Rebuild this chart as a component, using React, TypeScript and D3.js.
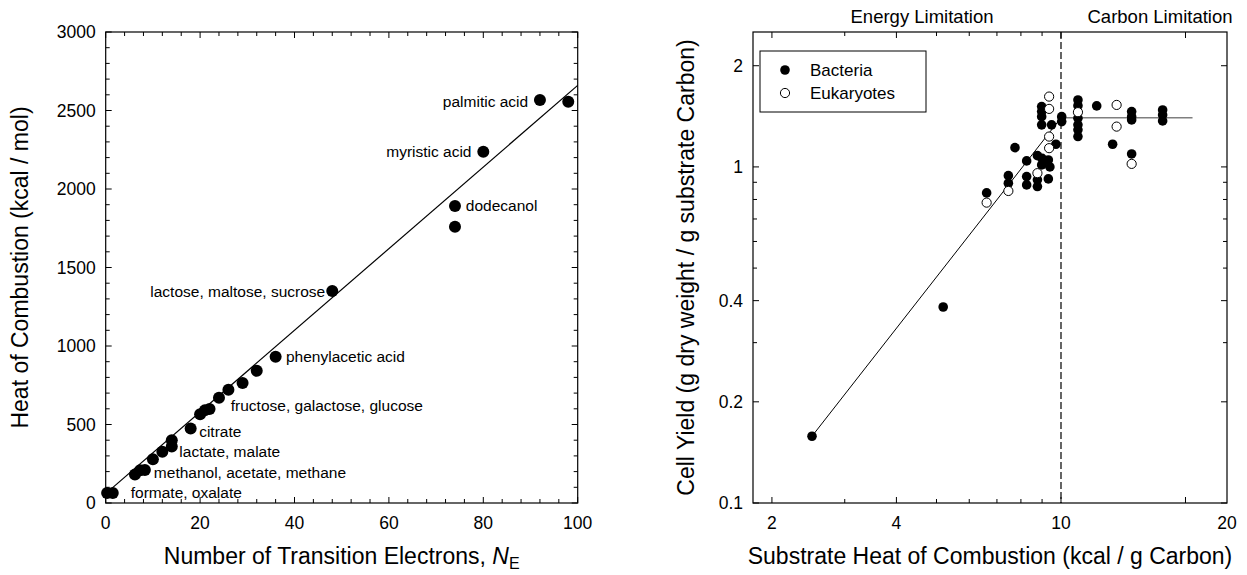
import React from "react";
import * as d3 from "d3";

// ---------- Left panel data ----------
const electronsNE = [0.3, 1.5, 6.2, 7.3, 8.3, 10, 12, 14, 14, 18, 20, 21, 22, 24, 26, 29, 32, 36, 48, 74, 74, 80, 92, 98];
const heatKcal = [63, 63, 182, 208, 210, 278, 327, 400, 360, 475, 565, 590, 598, 670, 722, 765, 842, 932, 1350, 1892, 1760, 2238, 2567, 2556];
const fitNE = [0, 100];
const fitHeat = [60, 2660];
const leftLabelText = ["formate, oxalate", "methanol, acetate, methane", "lactate, malate", "citrate", "fructose, galactose, glucose", "phenylacetic acid", "lactose, maltose, sucrose", "dodecanol", "myristic acid", "palmitic acid"];
const leftLabelNE = [5.3, 10.2, 15.6, 19.8, 26.5, 38.2, 46.5, 76.3, 77.5, 89.5];
const leftLabelHeat = [64, 193, 327, 454, 618, 932, 1350, 1892, 2238, 2560];
const leftLabelAnchor = ["start", "start", "start", "start", "start", "start", "end", "start", "end", "end"];
const leftXTicks = [0, 20, 40, 60, 80, 100];
const leftYTicks = [0, 500, 1000, 1500, 2000, 2500, 3000];

// ---------- Right panel data ----------
const bacteriaHeat = [6.61, 7.46, 7.46, 7.74, 8.26, 8.26, 8.26, 8.77, 8.77, 8.77, 8.98, 9.32, 9.32, 9.72, 8.98, 9.49, 8.98, 8.98, 8.98, 10.04, 10.04, 10.99, 10.99, 10.99, 10.99, 10.99, 10.99, 12.2, 13.33, 14.82, 14.82, 14.82, 14.82, 17.61, 17.61, 17.61, 5.19, 2.5, 9.0, 9.4];
const bacteriaYield = [0.837, 0.942, 0.894, 1.141, 1.042, 0.936, 0.884, 1.08, 0.915, 0.874, 1.014, 1.049, 0.921, 1.168, 1.334, 1.334, 1.512, 1.461, 1.411, 1.411, 1.364, 1.582, 1.521, 1.396, 1.334, 1.289, 1.231, 1.519, 1.168, 1.461, 1.411, 1.38, 1.093, 1.477, 1.428, 1.37, 0.383, 0.158, 1.06, 1.0];
const eukHeat = [6.61, 7.46, 8.77, 9.36, 9.36, 9.36, 9.36, 10.99, 13.63, 13.63, 14.82];
const eukYield = [0.783, 0.848, 0.958, 1.619, 1.488, 1.231, 1.137, 1.455, 1.529, 1.318, 1.021];
const energyLineX = [2.5, 10];
const energyLineY = [0.158, 1.4];
const carbonLineX = [10, 20.8];
const carbonLineY = [1.4, 1.4];
const limitBoundary = 10;
const rightXMinor = [2, 3, 4, 5, 6, 7, 8, 9, 10, 20];
const rightXLabelVals = [2, 4, 10];
const rightYMinor = [0.1, 0.2, 0.3, 0.4, 0.5, 0.6, 0.7, 0.8, 0.9, 1, 2];
const rightYLabelVals = [0.1, 0.2, 0.4, 1, 2];
const rightXEndLabel = "20";
const legendNames = ["Bacteria", "Eukaryotes"];

const FONT = "'Liberation Sans', Arial, sans-serif";
const TICK_FS = 17.5;
const TITLE_FS = 23;
const NOTE_FS = 15.5;

export default function App() {
  const top = 32, bottom = 503;
  const xL = d3.scaleLinear().domain([0, 100]).range([105.7, 577.7]);
  const yL = d3.scaleLinear().domain([0, 3000]).range([bottom, top]);
  const xR = d3.scaleLog().domain([1.8, 25.2]).range([753, 1227]);
  const yR = d3.scaleLog().domain([0.1, 2.52]).range([bottom, top]);

  const lineL = d3.line<number>().x((_, i) => xL(fitNE[i])).y((d) => yL(d));
  const lineE = d3.line<number>().x((_, i) => xR(energyLineX[i])).y((d) => yR(d));
  const lineC = d3.line<number>().x((_, i) => xR(carbonLineX[i])).y((d) => yR(d));

  const leftXMinor = d3.range(0, 101, 4);
  const leftYMinor = d3.range(0, 3001, 100);

  const [lx0, lx1] = xL.range();
  const [rx0, rx1] = xR.range();

  const frame = (x0: number, x1: number) => (
    <rect x={x0} y={top} width={x1 - x0} height={bottom - top} fill="none" stroke="#000" strokeWidth={1.2} />
  );

  return (
    <svg width={1247} height={575} style={{ position: "absolute", left: 0, top: 0, background: "#fff" }} fontFamily={FONT}>
      {/* ============ LEFT PANEL ============ */}
      {leftXMinor.map((v) => {
        const len = v % 20 === 0 ? 6 : 4;
        return (
          <g key={"lxt" + v} stroke="#000" strokeWidth={1}>
            <line x1={xL(v)} x2={xL(v)} y1={bottom} y2={bottom - len} />
            <line x1={xL(v)} x2={xL(v)} y1={top} y2={top + len} />
          </g>
        );
      })}
      {leftYMinor.map((v) => {
        const len = v % 500 === 0 ? 6 : 4;
        return (
          <g key={"lyt" + v} stroke="#000" strokeWidth={1}>
            <line x1={lx0} x2={lx0 + len} y1={yL(v)} y2={yL(v)} />
            <line x1={lx1} x2={lx1 - len} y1={yL(v)} y2={yL(v)} />
          </g>
        );
      })}
      {frame(lx0, lx1)}
      {leftXTicks.map((v) => (
        <text key={"lxl" + v} x={xL(v)} y={529} textAnchor="middle" fontSize={TICK_FS}>{v}</text>
      ))}
      {leftYTicks.map((v) => (
        <text key={"lyl" + v} x={lx0 - 10} y={yL(v) + 6} textAnchor="end" fontSize={TICK_FS}>{v}</text>
      ))}
      <path d={lineL(fitHeat) || ""} fill="none" stroke="#000" strokeWidth={1.2} />
      {electronsNE.map((n, i) => (
        <circle key={"lp" + i} cx={xL(n)} cy={yL(heatKcal[i])} r={6} fill="#000" />
      ))}
      {leftLabelText.map((t, i) => (
        <text key={"ll" + i} x={xL(leftLabelNE[i])} y={yL(leftLabelHeat[i]) + 5.5} textAnchor={leftLabelAnchor[i] as any} fontSize={NOTE_FS}>{t}</text>
      ))}
      <text x={(lx0 + lx1) / 2} y={564} textAnchor="middle" fontSize={TITLE_FS}>
        Number of Transition Electrons, <tspan fontStyle="italic">N</tspan><tspan fontSize={16} dy={5}>E</tspan>
      </text>
      <text transform={`translate(28,${(top + bottom) / 2}) rotate(-90)`} textAnchor="middle" fontSize={TITLE_FS}>
        Heat of Combustion (kcal / mol)
      </text>

      {/* ============ RIGHT PANEL ============ */}
      {rightXMinor.map((v) => {
        const len = rightXLabelVals.includes(v) || v === 20 ? 6 : 4;
        return (
          <g key={"rxt" + v} stroke="#000" strokeWidth={1}>
            <line x1={xR(v)} x2={xR(v)} y1={bottom} y2={bottom - len} />
            <line x1={xR(v)} x2={xR(v)} y1={top} y2={top + len} />
          </g>
        );
      })}
      {rightYMinor.map((v) => {
        const len = rightYLabelVals.includes(v) ? 6 : 4;
        return (
          <g key={"ryt" + v} stroke="#000" strokeWidth={1}>
            <line x1={rx0} x2={rx0 + len} y1={yR(v)} y2={yR(v)} />
            <line x1={rx1} x2={rx1 - len} y1={yR(v)} y2={yR(v)} />
          </g>
        );
      })}
      {frame(rx0, rx1)}
      {rightXLabelVals.map((v) => (
        <text key={"rxl" + v} x={xR(v)} y={529} textAnchor="middle" fontSize={TICK_FS}>{v}</text>
      ))}
      <text x={xR(xR.domain()[1])} y={529} textAnchor="middle" fontSize={TICK_FS}>{rightXEndLabel}</text>
      {rightYLabelVals.map((v) => (
        <text key={"ryl" + v} x={rx0 - 10} y={yR(v) + 6} textAnchor="end" fontSize={TICK_FS}>{String(v)}</text>
      ))}
      <line x1={xR(limitBoundary)} x2={xR(limitBoundary)} y1={top} y2={bottom} stroke="#000" strokeWidth={1.2} strokeDasharray="7,3" />
      <path d={lineE(energyLineY) || ""} fill="none" stroke="#000" strokeWidth={1} />
      <path d={lineC(carbonLineY) || ""} fill="none" stroke="#7f7f7f" strokeWidth={1.6} />
      {bacteriaHeat.map((h, i) => (
        <circle key={"b" + i} cx={xR(h)} cy={yR(bacteriaYield[i])} r={4.8} fill="#000" />
      ))}
      {eukHeat.map((h, i) => (
        <circle key={"e" + i} cx={xR(h)} cy={yR(eukYield[i])} r={4.6} fill="#fff" stroke="#000" strokeWidth={1} />
      ))}
      {/* legend */}
      <rect x={760} y={51} width={166} height={61} fill="#fff" stroke="#000" strokeWidth={1} />
      <circle cx={785} cy={70} r={4.8} fill="#000" />
      <circle cx={785} cy={93} r={4.6} fill="#fff" stroke="#000" strokeWidth={1} />
      <text x={810} y={76} fontSize={17}>{legendNames[0]}</text>
      <text x={810} y={99} fontSize={17}>{legendNames[1]}</text>
      {/* region labels */}
      <text x={922} y={23} textAnchor="middle" fontSize={18.5}>Energy Limitation</text>
      <text x={1160} y={23} textAnchor="middle" fontSize={18.5}>Carbon Limitation</text>
      <text x={(rx0 + rx1) / 2} y={564} textAnchor="middle" fontSize={TITLE_FS}>
        Substrate Heat of Combustion (kcal / g Carbon)
      </text>
      <text transform={`translate(694,${(top + bottom) / 2}) rotate(-90)`} textAnchor="middle" fontSize={TITLE_FS}>
        Cell Yield (g dry weight / g substrate Carbon)
      </text>
    </svg>
  );
}
